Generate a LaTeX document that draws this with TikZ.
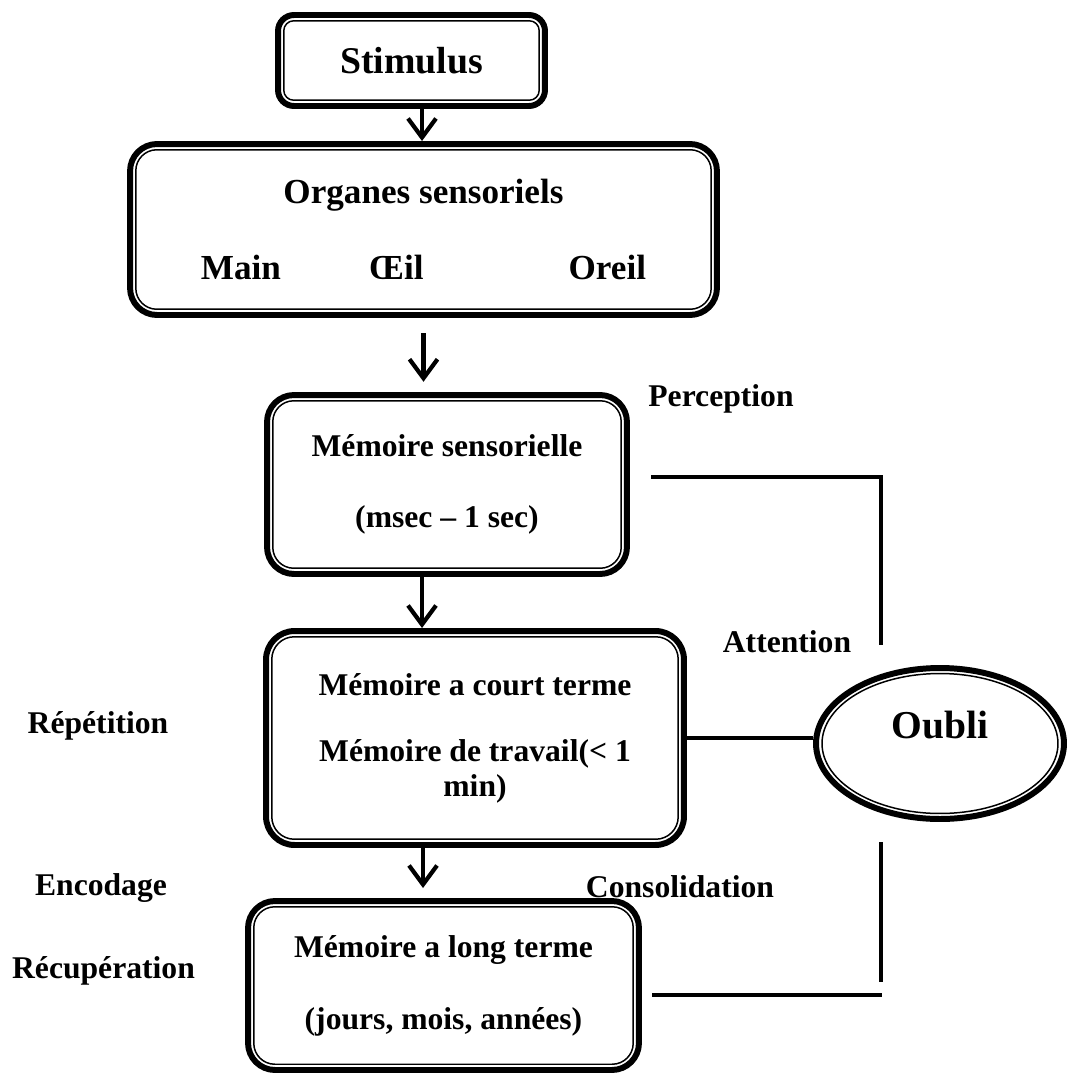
\documentclass[tikz,border=0pt]{standalone}
\usepackage{fontspec}
\setmainfont{Liberation Serif}
\usepackage{tikz}
\usetikzlibrary{arrows.meta,positioning,shapes}

\begin{document}
\begin{tikzpicture}[x=0.02cm,y=-0.02cm,
    box/.style={draw,line width=0.85pt,rounded corners=#1,outer sep=0pt,inner sep=0pt,align=center,font=\bfseries\fontsize{18}{19.5}\selectfont},
    outerframe/.style={line width=3.4pt,rounded corners=#1},
    flow/.style={line width=2.4pt,-{Straight Barb[length=0.38cm,width=0.56cm]}},
    conn/.style={line width=2.8pt},
    lbl/.style={anchor=base,font=\bfseries\fontsize{18}{19.5}\selectfont}]
    \useasboundingbox (0,0) rectangle (1067,1075);
    \node[box=0.2cm,minimum width=5.11cm,minimum height=1.59cm,font=\bfseries\fontsize{21.5}{24}\selectfont] (stim) at (411.5,60.5) {Stimulus};
    \node[box=0.42cm,minimum width=11.51cm,minimum height=3.19cm,font=\bfseries\fontsize{20}{22}\selectfont] (org) at (423.5,229.5) {Organes sensoriels\\[0.76cm]Main\hspace{1.76cm}Œil\hspace{2.9cm}Oreil};
    \node[box=0.42cm,minimum width=6.97cm,minimum height=3.35cm] (ms) at (447,484.5) {Mémoire sensorielle\\[0.73cm](msec – 1 sec)};
    \node[box=0.45cm,minimum width=8.13cm,minimum height=4.05cm] (mct) at (475,738) {Mémoire a court terme\\[0.65cm]Mémoire de travail(< 1\\min)};
    \node[box=0.42cm,minimum width=7.59cm,minimum height=3.15cm] (mlt) at (443.5,985.5) {Mémoire a long terme\\[0.75cm](jours, mois, années)};
    \node[draw,ellipse,line width=0.85pt,inner sep=0pt,outer sep=0pt,minimum width=4.72cm,minimum height=2.8cm,text height=0.54cm,text depth=0.76cm,font=\bfseries\fontsize{22.5}{24}\selectfont] (oubli) at (940,743.5) {Oubli};
    \foreach \n/\r in {stim/0.32cm,org/0.54cm,ms/0.54cm,mct/0.57cm,mlt/0.54cm}
      \draw[outerframe=\r] ([shift={(-0.115cm,-0.115cm)}]\n.south west) rectangle ([shift={(0.115cm,0.115cm)}]\n.north east);
    \draw[line width=3.4pt] (oubli.center) ellipse [x radius=2.48cm,y radius=1.51cm];
    \draw[flow,shorten <=0.175cm,shorten >=0.175cm] ([xshift=0.21cm]stim.south) -- ([xshift=0.21cm]stim.south |- org.north);
    \draw[flow,shorten <=0.48cm,shorten >=0.38cm] (org.south) -- (org.south |- ms.north);
    \draw[flow,shorten <=0.175cm,shorten >=0.175cm] ([xshift=-0.5cm]ms.south) -- ([xshift=-0.5cm]ms.south |- mct.north);
    \draw[flow,shorten <=0.175cm,shorten >=0.375cm] ([xshift=-1.04cm]mct.south) -- ([xshift=-1.04cm]mct.south |- mlt.north);
    \coordinate (attn) at (881,645);
    \coordinate (cons) at (881,842);
    \draw[conn] ([shift={(0.6cm,0.15cm)}]ms.east) -| (attn);
    \draw[conn,shorten <=0.175cm,shorten >=0.175cm] (mct.east) -- (mct.east -| oubli.west);
    \draw[conn] (cons) -- ++(0,140);
    \draw[conn] ([shift={(0.38cm,-0.19cm)}]mlt.east) -- ++(4.6cm,0);
    \node[lbl] (perc) at (721,406) {Perception};
    \node[lbl] (atten) at (787,652) {Attention};
    \node[lbl] (consol) at (680,897) {Consolidation};
    \node[lbl] (repet) at (98,733) {Répétition};
    \node[lbl] (encod) at (101,895) {Encodage};
    \node[lbl] (recup) at (103.5,978) {Récupération};
  \end{tikzpicture}
\end{document}
